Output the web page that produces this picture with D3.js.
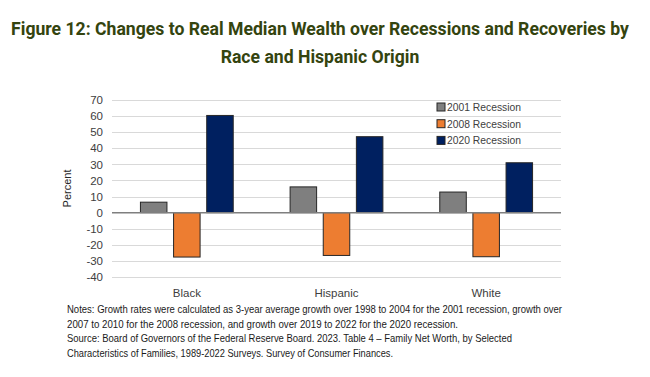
<!DOCTYPE html>
<html>
<head>
<meta charset="utf-8">
<script src="https://cdn.jsdelivr.net/npm/d3@7"></script>
<style>
  body { margin: 0; background: #fff; }
  svg { display: block; }
</style>
</head>
<body>
<div id="chart"></div>
<script>
// values (percent change in real median wealth)
const groups = ['Black', 'Hispanic', 'White'];
const seriesNames = ['2001 Recession', '2008 Recession', '2020 Recession'];
const rec2001 = [6.5, 16, 12.8];
const rec2008 = [-27.6, -26.6, -27.4];
const rec2020 = [60.4, 47.2, 31];
const yTicks = [70, 60, 50, 40, 30, 20, 10, 0, -10, -20, -30, -40];
const colors = ['#7f7f7f', '#ed7d31', '#002060'];

const titleLines = [
  'Figure 12: Changes to Real Median Wealth over Recessions and Recoveries by',
  'Race and Hispanic Origin'
];
const noteLines = [
  'Notes: Growth rates were calculated as 3-year average growth over 1998 to 2004 for the 2001 recession, growth over',
  '2007 to 2010 for the 2008 recession, and growth over 2019 to 2022 for the 2020 recession.',
  'Source: Board of Governors of the Federal Reserve Board. 2023. Table 4 \u2013 Family Net Worth, by Selected',
  'Characteristics of Families, 1989-2022 Surveys. Survey of Consumer Finances.'
];

const width = 650, height = 377;
const plot = { left: 112, right: 561, top: 100, bottom: 277 };

const svg = d3.select('#chart')
  .append('svg')
  .attr('width', width)
  .attr('height', height);

// title, fitted to the width of the original first line
const titleFont = 'Roboto, "Open Sans", "Liberation Sans", sans-serif';
const title = svg.append('g')
  .attr('fill', '#34440f')
  .attr('font-family', titleFont)
  .attr('font-weight', 700)
  .attr('text-anchor', 'middle');
const t1 = title.append('text').attr('x', 320).attr('y', 35).attr('font-size', 18).text(titleLines[0]);
const scaleF = 618 / t1.node().getComputedTextLength();
const titleSize = 18 * scaleF;
t1.attr('font-size', titleSize);
title.append('text').attr('x', 320).attr('y', 63).attr('font-size', titleSize).text(titleLines[1]);

const data = groups.map((g, i) => ({
  group: g,
  values: [rec2001[i], rec2008[i], rec2020[i]]
}));

const x0 = d3.scaleBand()
  .domain(groups)
  .range([plot.left, plot.right])
  .paddingInner(0.38)
  .paddingOuter(0.19);

const x1 = d3.scaleBand()
  .domain(d3.range(seriesNames.length))
  .range([0, x0.bandwidth()])
  .padding(0.2)
  .paddingOuter(0);

const y = d3.scaleLinear()
  .domain([-40, 70])
  .range([plot.bottom, plot.top]);

const font = '"Liberation Sans", Arial, sans-serif';

// gridlines
svg.append('g')
  .selectAll('line')
  .data(yTicks.filter(d => d !== 0))
  .join('line')
  .attr('x1', plot.left)
  .attr('x2', plot.right)
  .attr('y1', d => Math.round(y(d)) + 0.5)
  .attr('y2', d => Math.round(y(d)) + 0.5)
  .attr('stroke', '#d9d9d9')
  .attr('stroke-width', 1);

// y axis labels (plain hyphen for negatives, like the original)
const yAxis = svg.append('g')
  .attr('transform', `translate(${plot.left},0)`)
  .call(d3.axisLeft(y).tickValues(yTicks).tickFormat(d => String(d)).tickSize(0).tickPadding(9));
yAxis.select('.domain').remove();
yAxis.selectAll('text')
  .attr('font-family', font)
  .attr('font-size', 11.5)
  .attr('fill', '#404040');

svg.append('text')
  .attr('transform', `translate(71,${(plot.top + plot.bottom) / 2}) rotate(-90)`)
  .attr('text-anchor', 'middle')
  .attr('font-family', font)
  .attr('font-size', 11)
  .attr('fill', '#262626')
  .text('Percent');

// bars
const gGroups = svg.append('g')
  .selectAll('g')
  .data(data)
  .join('g')
  .attr('transform', d => `translate(${x0(d.group)},0)`);

gGroups.selectAll('rect')
  .data(d => d.values.map((v, i) => ({ v, i })))
  .join('rect')
  .attr('x', d => x1(d.i))
  .attr('width', x1.bandwidth())
  .attr('y', d => y(Math.max(0, d.v)))
  .attr('height', d => Math.abs(y(d.v) - y(0)))
  .attr('fill', d => colors[d.i])
  .attr('stroke', '#262626')
  .attr('stroke-width', 1);

// zero line
svg.append('line')
  .attr('x1', plot.left)
  .attr('x2', plot.right)
  .attr('y1', y(0))
  .attr('y2', y(0))
  .attr('stroke', '#7f7f7f')
  .attr('stroke-width', 1.5);

// category labels
svg.append('g')
  .selectAll('text')
  .data(groups)
  .join('text')
  .attr('x', d => x0(d) + x0.bandwidth() / 2)
  .attr('y', 297)
  .attr('text-anchor', 'middle')
  .attr('font-family', font)
  .attr('font-size', 11.5)
  .attr('fill', '#404040')
  .text(d => d);

// legend
const legend = svg.append('g')
  .selectAll('g')
  .data(seriesNames)
  .join('g')
  .attr('transform', (d, i) => `translate(437,${107 + i * 16.7})`);

legend.append('rect')
  .attr('x', 0)
  .attr('y', -4)
  .attr('width', 8)
  .attr('height', 8)
  .attr('fill', (d, i) => colors[i])
  .attr('stroke', '#262626')
  .attr('stroke-width', 1);

legend.append('text')
  .attr('x', 10)
  .attr('y', 4)
  .attr('font-family', font)
  .attr('font-size', 11.5)
  .attr('fill', '#404040')
  .attr('textLength', 74)
  .attr('lengthAdjust', 'spacingAndGlyphs')
  .text(d => d);

// notes and source
const noteEnds = [562, 458, 512, 393];
svg.append('g')
  .selectAll('text')
  .data(noteLines)
  .join('text')
  .attr('x', 67)
  .attr('y', (d, i) => 313 + i * 14.5)
  .attr('font-family', font)
  .attr('font-size', 10.5)
  .attr('fill', '#1a1a1a')
  .attr('textLength', (d, i) => noteEnds[i] - 67)
  .attr('lengthAdjust', 'spacingAndGlyphs')
  .text(d => d);
</script>
</body>
</html>
